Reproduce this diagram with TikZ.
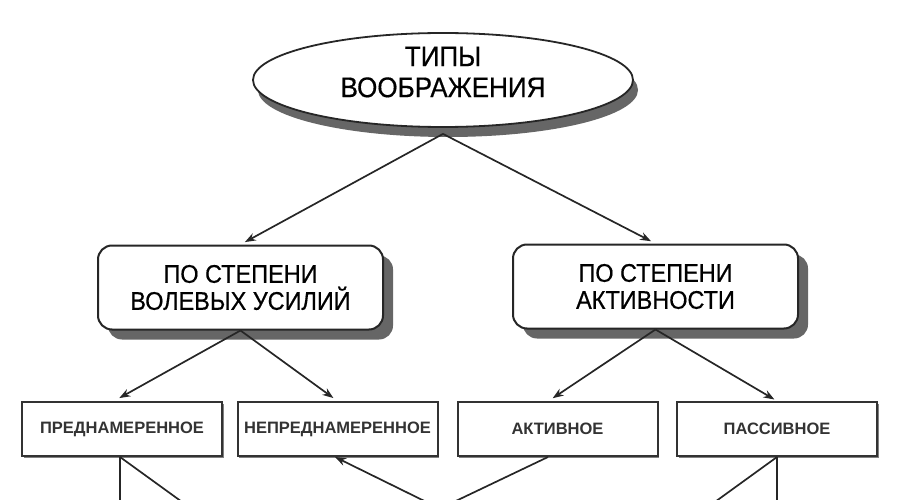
\documentclass[tikz,border=0pt]{standalone}
\usepackage{fontspec}
\setmainfont{Liberation Sans}[FakeStretch=0.92, FakeBold=0.5]
\newfontfamily\labelfont{Liberation Sans}
\usetikzlibrary{
	arrows.meta,
	shapes.geometric,
	shadows
}

\begin{document}
\begin{tikzpicture}[x=1pt, y=-1pt,
	typesnode/.style={ellipse, draw=black!85, line width=1.8pt, fill=white,
		minimum width=380pt, minimum height=94pt, inner sep=0pt,
		drop shadow={shadow xshift=5pt, shadow yshift=-10pt, fill=black!60, opacity=1}},
	groupbox/.style={rectangle, rounded corners=14pt, draw=black!85, line width=2pt, fill=white,
		minimum width=285pt, minimum height=84pt, align=center,
		font=\fontsize{25.5}{27}\selectfont,
		drop shadow={shadow xshift=10pt, shadow yshift=-10pt, fill=black!60, opacity=1}},
	kindbox/.style={rectangle, draw=black!80, line width=2pt, fill=white,
		minimum width=200pt, minimum height=54pt, text=black!80,
		font=\labelfont\bfseries\fontsize{16.5}{18}\selectfont,
		drop shadow={shadow xshift=1.5pt, shadow yshift=-1.5pt, fill=black!50, opacity=1}},
	link/.style={draw=black!85, line width=1.7pt, -{Stealth[length=11pt, width=8pt]}},
	plainlink/.style={draw=black!85, line width=1.7pt}]
		\useasboundingbox (0,0) rectangle (900,500);
		\clip (0,0) rectangle (900,500);
		% top
		\node[typesnode, label={[align=center, yshift=8pt, font=\fontsize{28.3}{31}\selectfont]center:ТИПЫ\\ВООБРАЖЕНИЯ}] (types) at (443,80) {};
		% groups
		\node[groupbox] (volev) at (240.5,287.5) {ПО СТЕПЕНИ\\ВОЛЕВЫХ УСИЛИЙ};
		\node[groupbox] (aktiv) at (655.5,286.5) {ПО СТЕПЕНИ\\АКТИВНОСТИ};
		% kinds
		\node[kindbox] (prednam) at (122,429) {ПРЕДНАМЕРЕННОЕ};
		\node[kindbox] (neprednam) at (337.5,429) {НЕПРЕДНАМЕРЕННОЕ};
		\node[kindbox] (aktivnoe) at (557.5,429) {АКТИВНОЕ};
		\node[kindbox] (passivnoe) at (777,429) {ПАССИВНОЕ};
		% lower ends, outside the frame
		\coordinate (prednamdown) at (120,520);
		\coordinate (prednamout) at (207,520);
		\coordinate (neprednamin) at (463,520);
		\coordinate (aktivout) at (416,520);
		\coordinate (passivdown) at (777,520);
		\coordinate (passivout) at (690,520);
		\draw[link, shorten >=5pt] ([yshift=-6pt]types.south) -- (volev.north);
		\draw[link, shorten >=5pt] ([yshift=-6pt]types.south) -- (aktiv.north);
		\draw[link, shorten >=6pt] (volev.south) -- ([xshift=-8pt]prednam.north);
		\draw[link, shorten >=5pt] (volev.south) -- (neprednam.north);
		\draw[link, shorten >=5pt] (aktiv.south) -- ([xshift=-9pt]aktivnoe.north);
		\draw[link, shorten >=3pt] (aktiv.south) -- (passivnoe.north);
		\draw[plainlink] ([xshift=-2pt]prednam.south) -- (prednamdown);
		\draw[plainlink] ([xshift=-2pt]prednam.south) -- (prednamout);
		\draw[link] (neprednamin) -- ([xshift=-2.5pt]neprednam.south);
		\draw[plainlink] ([xshift=-9.5pt]aktivnoe.south) -- (aktivout);
		\draw[plainlink] (passivnoe.south) -- (passivdown);
		\draw[plainlink] (passivnoe.south) -- (passivout);
\end{tikzpicture}
\end{document}
